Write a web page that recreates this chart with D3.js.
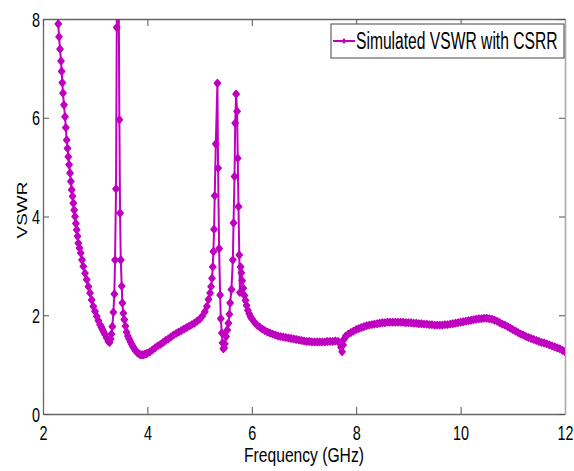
<!DOCTYPE html>
<html>
<head>
<meta charset="utf-8">
<script src="https://cdn.jsdelivr.net/npm/d3@7"></script>
<style>
  body { margin: 0; background: #fff; }
  text { font-family: "Liberation Sans", Arial, sans-serif; fill: #000; }
</style>
</head>
<body>
<div class="chart_area"></div>
<script>
// VSWR values (GHz, VSWR)
var freq = [
  2.270, 2.293, 2.307, 2.326, 2.345, 2.358, 2.370, 2.383, 2.402, 2.422,
  2.437, 2.454, 2.470, 2.485, 2.500, 2.518, 2.534, 2.550, 2.566, 2.581,
  2.597, 2.613, 2.630, 2.646, 2.662, 2.677, 2.700, 2.723, 2.748, 2.772,
  2.805, 2.838, 2.870, 2.901, 2.932, 2.964, 2.996, 3.029, 3.061, 3.093,
  3.117, 3.140, 3.164, 3.188, 3.220, 3.252, 3.275, 3.295, 3.312, 3.328,
  3.348, 3.367, 3.380, 3.399, 3.413, 3.430, 3.450, 3.463, 3.476, 3.490,
  3.508, 3.520, 3.539, 3.558, 3.580, 3.600, 3.625, 3.650, 3.675, 3.700,
  3.725, 3.750, 3.775, 3.800, 3.825, 3.850, 3.875, 3.900, 3.925, 3.950,
  3.975, 4.000, 4.050, 4.100, 4.150, 4.200, 4.250, 4.300, 4.350, 4.400,
  4.450, 4.500, 4.550, 4.600, 4.650, 4.700, 4.750, 4.800, 4.850, 4.900,
  4.950, 5.000, 5.050, 5.100, 5.140, 5.170, 5.201, 5.220, 5.238, 5.252,
  5.265, 5.277, 5.290, 5.310, 5.341, 5.354, 5.374, 5.393, 5.406, 5.425,
  5.440, 5.456, 5.470, 5.482, 5.508, 5.530, 5.552, 5.570, 5.585, 5.610,
  5.637, 5.650, 5.669, 5.682, 5.700, 5.718, 5.731, 5.745, 5.760, 5.772,
  5.785, 5.800, 5.815, 5.835, 5.860, 5.880, 5.900, 5.925, 5.950, 5.975,
  6.000, 6.050, 6.100, 6.150, 6.200, 6.250, 6.300, 6.350, 6.400, 6.450,
  6.500, 6.550, 6.600, 6.650, 6.700, 6.750, 6.800, 6.850, 6.900, 6.950,
  7.000, 7.050, 7.100, 7.150, 7.200, 7.250, 7.300, 7.350, 7.400, 7.450,
  7.500, 7.550, 7.600, 7.650, 7.690, 7.710, 7.730, 7.750, 7.770, 7.800,
  7.850, 7.900, 7.950, 8.000, 8.050, 8.100, 8.150, 8.200, 8.250, 8.300,
  8.350, 8.400, 8.450, 8.500, 8.550, 8.600, 8.650, 8.700, 8.750, 8.800,
  8.850, 8.900, 8.950, 9.000, 9.050, 9.100, 9.150, 9.200, 9.250, 9.300,
  9.350, 9.400, 9.450, 9.500, 9.550, 9.600, 9.650, 9.700, 9.750, 9.800,
  9.850, 9.900, 9.950, 10.000, 10.050, 10.100, 10.150, 10.200, 10.250, 10.300,
  10.350, 10.400, 10.450, 10.500, 10.550, 10.600, 10.650, 10.700, 10.750, 10.800,
  10.850, 10.900, 10.950, 11.000, 11.050, 11.100, 11.150, 11.200, 11.250, 11.300,
  11.350, 11.400, 11.450, 11.500, 11.550, 11.600, 11.650, 11.700, 11.750, 11.800,
  11.850, 11.900, 11.950, 12.000
];
var vswr = [
  8.25, 7.90, 7.64, 7.39, 7.15, 6.94, 6.71, 6.50, 6.26, 6.02,
  5.80, 5.55, 5.38, 5.21, 5.05, 4.88, 4.71, 4.54, 4.41, 4.27,
  4.13, 4.00, 3.86, 3.73, 3.60, 3.46, 3.36, 3.26, 3.12, 2.99,
  2.85, 2.72, 2.58, 2.45, 2.31, 2.18, 2.08, 1.98, 1.89, 1.81,
  1.76, 1.71, 1.66, 1.61, 1.54, 1.47, 1.45, 1.52, 1.62, 1.77,
  2.06, 2.43, 3.12, 4.56, 7.83, 11.00, 8.60, 5.96, 4.07, 3.12,
  2.59, 2.25, 2.04, 1.91, 1.78, 1.66, 1.58, 1.52, 1.46, 1.41,
  1.36, 1.32, 1.28, 1.25, 1.23, 1.21, 1.20, 1.20, 1.20, 1.21,
  1.22, 1.23, 1.26, 1.30, 1.34, 1.38, 1.41, 1.45, 1.49, 1.52,
  1.56, 1.60, 1.63, 1.66, 1.69, 1.72, 1.75, 1.78, 1.81, 1.84,
  1.88, 1.92, 1.98, 2.07, 2.18, 2.32, 2.45, 2.58, 2.75, 2.98,
  3.29, 3.74, 4.42, 5.47, 6.70, 4.98, 3.35, 2.41, 1.93, 1.64,
  1.44, 1.32, 1.34, 1.42, 1.57, 1.70, 1.84, 2.02, 2.25, 2.52,
  3.12, 3.87, 4.81, 5.89, 6.48, 6.13, 5.18, 4.20, 3.22, 2.46,
  2.98, 2.86, 2.70, 2.55, 2.40, 2.30, 2.20, 2.10, 2.03, 1.97,
  1.93, 1.86, 1.80, 1.76, 1.72, 1.69, 1.66, 1.64, 1.62, 1.60,
  1.58, 1.57, 1.56, 1.55, 1.54, 1.53, 1.52, 1.51, 1.50, 1.49,
  1.48, 1.47, 1.47, 1.46, 1.46, 1.46, 1.46, 1.46, 1.46, 1.47,
  1.47, 1.47, 1.48, 1.47, 1.44, 1.35, 1.26, 1.40, 1.52, 1.58,
  1.62, 1.65, 1.68, 1.71, 1.73, 1.75, 1.77, 1.79, 1.80, 1.81,
  1.82, 1.83, 1.84, 1.85, 1.85, 1.86, 1.86, 1.86, 1.86, 1.86,
  1.86, 1.86, 1.85, 1.85, 1.85, 1.84, 1.84, 1.83, 1.83, 1.82,
  1.82, 1.81, 1.81, 1.80, 1.80, 1.80, 1.80, 1.81, 1.81, 1.82,
  1.83, 1.84, 1.85, 1.86, 1.87, 1.88, 1.89, 1.90, 1.91, 1.92,
  1.93, 1.93, 1.94, 1.94, 1.93, 1.92, 1.90, 1.88, 1.85, 1.82,
  1.80, 1.77, 1.74, 1.71, 1.68, 1.65, 1.62, 1.60, 1.57, 1.55,
  1.53, 1.51, 1.49, 1.47, 1.45, 1.44, 1.42, 1.40, 1.38, 1.36,
  1.34, 1.32, 1.29, 1.26
];
var xTicks = [2, 4, 6, 8, 10, 12];
var yTicks = [0, 2, 4, 6, 8];
var seriesName = "Simulated VSWR with CSRR";
var xTitle = "Frequency (GHz)";
var yTitle = "VSWR";

var lineColor = "#c000c0";
var squeezeX = 0.72;   // the original's text is narrow
var margin = { top: 19, right: 9, bottom: 57, left: 43 },
    width = 574 - margin.left - margin.right,
    height = 471 - margin.top - margin.bottom;

var svgRoot = d3.select(".chart_area")
    .append("svg")
    .attr("width", 574)
    .attr("height", 471);

var svg = svgRoot.append("g")
    .attr("transform", "translate(" + margin.left + "," + margin.top + ")");

var x = d3.scaleLinear().domain([2, 12]).range([0, width]);
var y = d3.scaleLinear().domain([0, 8]).range([height, 0]);

var points = freq.map(function (f, i) { return [f, vswr[i]]; });

// axes, ticks pointing inward
var xAxis = svg.append("g")
    .attr("transform", "translate(0," + height + ")")
    .call(d3.axisBottom(x).tickValues(xTicks).tickSizeInner(-7).tickSizeOuter(0));
xAxis.selectAll("text")
    .attr("y", 26).attr("dy", null)
    .attr("transform", "scale(" + squeezeX + ",1)")
    .style("font-size", "20px");

var yAxis = svg.append("g")
    .call(d3.axisLeft(y).tickValues(yTicks).tickSizeInner(-6).tickSizeOuter(0));
yAxis.selectAll("text")
    .attr("x", -3 / squeezeX)
    .attr("dy", "0.36em")
    .attr("transform", "scale(" + squeezeX + ",1)")
    .style("font-size", "20px");

var topAxis = svg.append("g")
    .call(d3.axisTop(x).tickValues(xTicks).tickSizeInner(-7).tickSizeOuter(0).tickFormat(""));
var rightAxis = svg.append("g")
    .attr("transform", "translate(" + width + ",0)")
    .call(d3.axisRight(y).tickValues(yTicks).tickSizeInner(-6).tickSizeOuter(0).tickFormat(""));

[xAxis, yAxis, topAxis].forEach(function (a) {
    a.select(".domain").style("stroke", "#666").style("stroke-width", 1.3);
    a.selectAll("line").style("stroke", "#555");
});
rightAxis.select(".domain").style("stroke", "#aaa").style("stroke-width", 1.6);
rightAxis.selectAll("line").style("stroke", "#555");

// data
svg.append("clipPath").attr("id", "plotClip")
    .append("rect").attr("width", width).attr("height", height);

var plot = svg.append("g").attr("clip-path", "url(#plotClip)");

var line = d3.line()
    .x(function (d) { return x(d[0]); })
    .y(function (d) { return y(d[1]); });

plot.append("path")
    .datum(points)
    .attr("fill", "none")
    .attr("stroke", lineColor)
    .attr("stroke-width", 2)
    .attr("d", line);

var marker = "M0,-3.4L2.9,0L0,3.4L-2.9,0Z";

plot.selectAll(".pt")
    .data(points)
    .enter()
    .append("path")
    .attr("class", "pt")
    .attr("d", marker)
    .attr("fill", lineColor)
    .attr("stroke", lineColor)
    .attr("stroke-width", 1.8)
    .attr("stroke-linejoin", "round")
    .attr("transform", function (d) { return "translate(" + x(d[0]) + "," + y(d[1]) + ")"; });

// axis titles
svgRoot.append("text")
    .attr("transform", "translate(" + (margin.left + width / 2) + ",462)scale(0.745,1)")
    .attr("text-anchor", "middle")
    .style("font-size", "21px")
    .text(xTitle);

svgRoot.append("text")
    .attr("transform", "translate(27,210)rotate(-90)scale(1,0.8)")
    .attr("text-anchor", "middle")
    .style("font-size", "19px")
    .text(yTitle);

// legend
var legend = svgRoot.append("g");
legend.append("rect")
    .attr("x", 331).attr("y", 24)
    .attr("width", 233).attr("height", 34)
    .attr("fill", "#fff")
    .attr("stroke", "#444")
    .attr("stroke-width", 1);
legend.append("line")
    .attr("x1", 333).attr("x2", 355)
    .attr("y1", 41).attr("y2", 41)
    .attr("stroke", lineColor)
    .attr("stroke-width", 2);
legend.append("path")
    .attr("d", "M0,-3L2.5,0L0,3L-2.5,0Z")
    .attr("fill", lineColor)
    .attr("transform", "translate(344,41)");
legend.append("text")
    .attr("transform", "translate(356,49)scale(0.68,1)")
    .style("font-size", "23px")
    .text(seriesName);
</script>
</body>
</html>
